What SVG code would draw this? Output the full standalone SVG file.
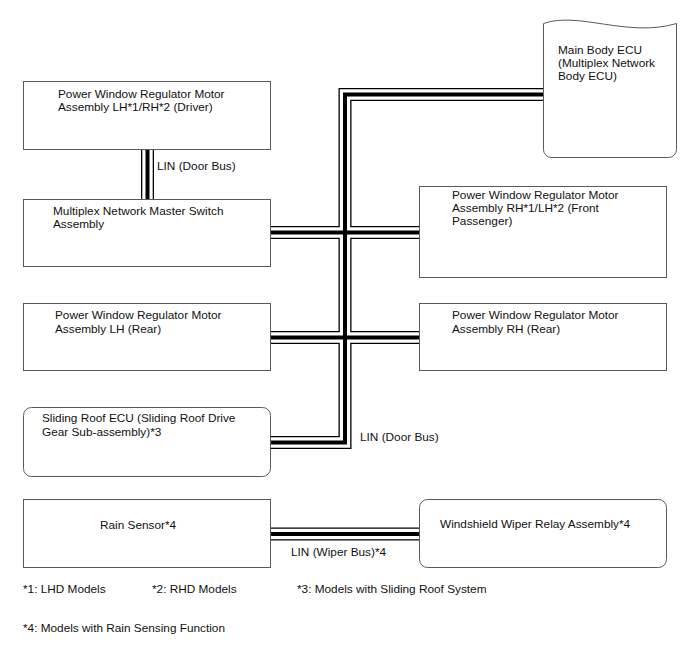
<svg xmlns="http://www.w3.org/2000/svg" width="688" height="658" viewBox="0 0 688 658">
<style>
.box{fill:#fff;stroke:#5a5a5a;stroke-width:1}
text{font-family:"Liberation Sans",Arial,sans-serif;font-size:11.8px;fill:#111}
.b1{fill:none;stroke:#000;stroke-width:13}
.b2{fill:none;stroke:#fff;stroke-width:10.4}
.b3{fill:none;stroke:#000;stroke-width:4}
</style>
<defs>
<path id="door" d="M271,442.5H345V94.5H543"/>
<path id="sw" d="M271,232.5H419"/>
<path id="rear" d="M271,337.5H419"/>
<path id="drv" d="M147.5,149V199"/>
<path id="wip" d="M271,534H419"/>
</defs>
<rect width="688" height="658" fill="#fff"/>
<g id="connectors">
<use href="#door" class="b1"/><use href="#sw" class="b1"/><use href="#rear" class="b1"/><use href="#drv" class="b1"/><use href="#wip" class="b1"/>
<use href="#door" class="b2"/><use href="#sw" class="b2"/><use href="#rear" class="b2"/><use href="#drv" class="b2"/><use href="#wip" class="b2"/>
<use href="#door" class="b3"/><use href="#sw" class="b3"/><use href="#rear" class="b3"/><use href="#drv" class="b3"/><use href="#wip" class="b3"/>
<text x="157" y="170">LIN (Door Bus)</text>
<text x="360" y="441">LIN (Door Bus)</text>
<text x="291" y="556">LIN (Wiper Bus)*4</text>
</g>
<g id="main-body-ecu">
<path class="box" d="M543.5,23.5C578,11 628,38 676.5,23.5V149.5a8,8 0 0 1-8,8H551.5a8,8 0 0 1-8-8Z"/>
<text x="558" y="54">Main Body ECU</text>
<text x="558" y="67">(Multiplex Network</text>
<text x="558" y="80">Body ECU)</text>
</g>
<g id="pw-driver">
<rect class="box" x="23.5" y="81.5" width="247" height="68"/>
<text x="58" y="98">Power Window Regulator Motor</text>
<text x="58" y="111">Assembly LH*1/RH*2 (Driver)</text>
</g>
<g id="master-switch">
<rect class="box" x="23.5" y="199.5" width="247" height="67"/>
<text x="53" y="215">Multiplex Network Master Switch</text>
<text x="53" y="228">Assembly</text>
</g>
<g id="pw-front-passenger">
<rect class="box" x="419.5" y="186.5" width="247" height="91"/>
<text x="452" y="199">Power Window Regulator Motor</text>
<text x="452" y="212">Assembly RH*1/LH*2 (Front</text>
<text x="452" y="225">Passenger)</text>
</g>
<g id="pw-rear-lh">
<rect class="box" x="23.5" y="303.5" width="247" height="67"/>
<text x="55" y="319">Power Window Regulator Motor</text>
<text x="55" y="333">Assembly LH (Rear)</text>
</g>
<g id="pw-rear-rh">
<rect class="box" x="419.5" y="303.5" width="247" height="67"/>
<text x="452" y="319">Power Window Regulator Motor</text>
<text x="452" y="333">Assembly RH (Rear)</text>
</g>
<g id="sliding-roof-ecu">
<rect class="box" x="23.5" y="407.5" width="247" height="69" rx="8"/>
<text x="42" y="422">Sliding Roof ECU (Sliding Roof Drive</text>
<text x="42" y="436">Gear Sub-assembly)*3</text>
</g>
<g id="rain-sensor">
<rect class="box" x="23.5" y="499.5" width="247" height="68"/>
<text x="100" y="529">Rain Sensor*4</text>
</g>
<g id="wiper-relay">
<rect class="box" x="419.5" y="499.5" width="247" height="68" rx="8"/>
<text x="440" y="528">Windshield Wiper Relay Assembly*4</text>
</g>
<g id="notes">
<text x="23" y="593">*1: LHD Models</text>
<text x="152" y="593">*2: RHD Models</text>
<text x="297" y="593">*3: Models with Sliding Roof System</text>
<text x="23" y="632">*4: Models with Rain Sensing Function</text>
</g>
</svg>
